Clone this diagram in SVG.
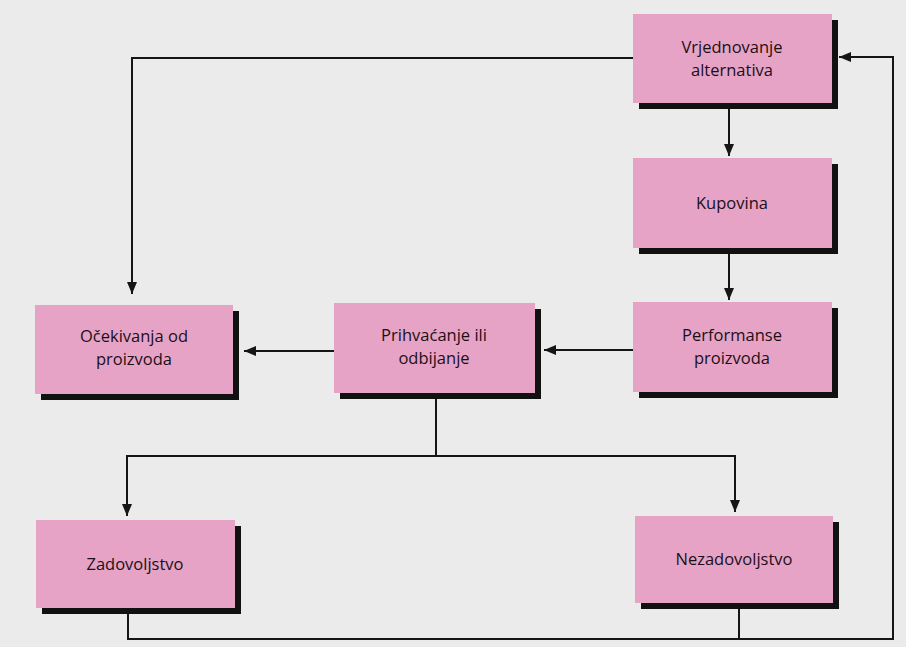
<svg xmlns="http://www.w3.org/2000/svg" width="906" height="647" viewBox="0 0 906 647">
<style>
.bg{fill:#ebebeb}
.shadow{fill:#111}
.box{fill:#e6a3c6}
.lbl{font-family:"Open Sans","Noto Sans",sans-serif;font-size:16.5px;fill:#1c1016;text-anchor:middle}
.conn{fill:none;stroke:#151515;stroke-width:2}
</style>
<defs>
<marker id="arr" markerUnits="userSpaceOnUse" markerWidth="12" markerHeight="10" refX="12" refY="5" orient="auto">
<path d="M0,0 L12,5 L0,10 Z" fill="#151515"/>
</marker>
</defs>
<rect class="bg" x="0" y="0" width="906" height="647"/>
<g id="connectors">
<path class="conn" d="M633,58 H132 V294" marker-end="url(#arr)"/>
<path class="conn" d="M729,109 V156" marker-end="url(#arr)"/>
<path class="conn" d="M729,253 V300" marker-end="url(#arr)"/>
<path class="conn" d="M633,350 H544" marker-end="url(#arr)"/>
<path class="conn" d="M334,351 H244" marker-end="url(#arr)"/>
<path class="conn" d="M436,399 V456 H127 V516" marker-end="url(#arr)"/>
<path class="conn" d="M436,456 H735 V512" marker-end="url(#arr)"/>
<path class="conn" d="M128,614 V639 H893 V57 H839" marker-end="url(#arr)"/>
<path class="conn" d="M739,609 V639"/>
</g>
<g id="vrjednovanje">
<rect class="shadow" x="639" y="20" width="199" height="89"/>
<rect class="box" x="633" y="14" width="199" height="89"/>
<text class="lbl" x="732" y="53">Vrjednovanje</text>
<text class="lbl" x="732" y="76">alternativa</text>
</g>
<g id="kupovina">
<rect class="shadow" x="639" y="164" width="199" height="90"/>
<rect class="box" x="633" y="158" width="199" height="90"/>
<text class="lbl" x="732" y="209">Kupovina</text>
</g>
<g id="performanse">
<rect class="shadow" x="639" y="308" width="199" height="90"/>
<rect class="box" x="633" y="302" width="199" height="90"/>
<text class="lbl" x="732" y="341">Performanse</text>
<text class="lbl" x="732" y="364">proizvoda</text>
</g>
<g id="prihvacanje">
<rect class="shadow" x="340" y="309" width="201" height="90"/>
<rect class="box" x="334" y="303" width="201" height="90"/>
<text class="lbl" x="434" y="341">Prihvaćanje ili</text>
<text class="lbl" x="434" y="364">odbijanje</text>
</g>
<g id="ocekivanja">
<rect class="shadow" x="41" y="311" width="198" height="89"/>
<rect class="box" x="35" y="305" width="198" height="89"/>
<text class="lbl" x="134" y="342">Očekivanja od</text>
<text class="lbl" x="134" y="365">proizvoda</text>
</g>
<g id="zadovoljstvo">
<rect class="shadow" x="42" y="526" width="199" height="88"/>
<rect class="box" x="36" y="520" width="199" height="88"/>
<text class="lbl" x="135" y="570">Zadovoljstvo</text>
</g>
<g id="nezadovoljstvo">
<rect class="shadow" x="641" y="522" width="198" height="87"/>
<rect class="box" x="635" y="516" width="198" height="87"/>
<text class="lbl" x="734" y="565">Nezadovoljstvo</text>
</g>
</svg>
